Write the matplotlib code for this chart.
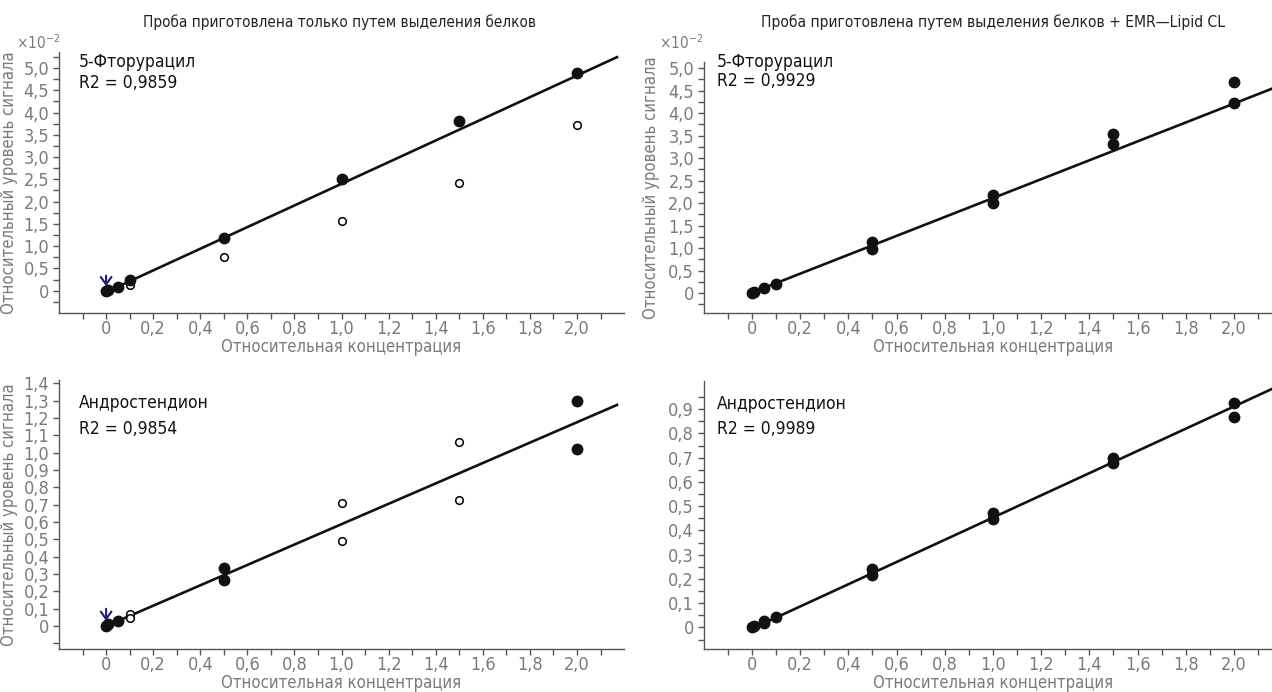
import numpy as np
import matplotlib
matplotlib.use('Agg')
import matplotlib.pyplot as plt
from matplotlib.ticker import FixedLocator, FuncFormatter

plt.rcParams['font.family'] = ['DejaVu Sans']
plt.rcParams['font.stretch'] = 'condensed'
plt.rcParams['mathtext.fontset'] = 'dejavusans'

# --- data (signal values of the top panels in units of 1e-2) ---
titles = ['Проба приготовлена только путем выделения белков',
          'Проба приготовлена путем выделения белков + EMR—Lipid CL']
xlabel = 'Относительная концентрация'
ylabel = 'Относительный уровень сигнала'
compounds = ['5-Фторурацил', 'Андростендион']

# 5-fluorouracil, protein precipitation only
fu_ppt_x = [0, 0.01, 0.05, 0.1, 0.5, 1.0, 1.5, 2.0]
fu_ppt_y = [0.0, 0.01, 0.09, 0.24, 1.19, 2.50, 3.82, 4.89]
fu_ppt_open_x = [0.1, 0.5, 1.0, 1.5, 2.0]
fu_ppt_open_y = [0.13, 0.75, 1.57, 2.42, 3.72]
fu_ppt_fit = (2.43, -0.03)
fu_ppt_r2 = '0,9859'

# 5-fluorouracil, PPT + EMR-Lipid
fu_emr_x = [0, 0.01, 0.05, 0.1, 0.5, 0.5, 1.0, 1.0, 1.5, 1.5, 2.0, 2.0]
fu_emr_y = [0.0, 0.03, 0.11, 0.21, 1.13, 0.98, 2.17, 1.99, 3.54, 3.32, 4.70, 4.22]
fu_emr_fit = (2.10, 0.01)
fu_emr_r2 = '0,9929'

# androstenedione, protein precipitation only
an_ppt_x = [0, 0.01, 0.05, 0.5, 0.5, 2.0, 2.0]
an_ppt_y = [0.0, 0.01, 0.03, 0.335, 0.265, 1.30, 1.02]
an_ppt_open_x = [0.1, 0.1, 1.0, 1.0, 1.5, 1.5]
an_ppt_open_y = [0.07, 0.045, 0.71, 0.49, 1.065, 0.725]
an_ppt_fit = (0.588, 0.0)
an_ppt_r2 = '0,9854'

# androstenedione, PPT + EMR-Lipid
an_emr_x = [0, 0.01, 0.05, 0.05, 0.1, 0.5, 0.5, 1.0, 1.0, 1.5, 1.5, 2.0, 2.0]
an_emr_y = [0.003, 0.006, 0.02, 0.028, 0.044, 0.24, 0.218, 0.473, 0.449, 0.697, 0.676, 0.927, 0.868]
an_emr_fit = (0.458, -0.005)
an_emr_r2 = '0,9989'

GRAY = '#7a7a7a'
AXIS = '#555555'


def comma(v, pos=None):
    if abs(v) < 1e-9:
        return '0'
    return f'{v:.1f}'.replace('.', ',')


def style_axis(ax, ymin, ymax, ymajor, yminor):
    ax.set_xlim(-0.2, 2.2)
    ax.set_ylim(ymin, ymax)
    for s in ['top', 'right']:
        ax.spines[s].set_visible(False)
    for s in ['left', 'bottom']:
        ax.spines[s].set_color(AXIS)
        ax.spines[s].set_linewidth(1.0)
    ax.xaxis.set_major_locator(FixedLocator(np.arange(0, 2.01, 0.2)))
    ax.xaxis.set_minor_locator(FixedLocator(np.arange(-0.1, 2.15, 0.2)))
    ax.yaxis.set_major_locator(FixedLocator(ymajor))
    ax.yaxis.set_minor_locator(FixedLocator(yminor))
    ax.xaxis.set_major_formatter(FuncFormatter(comma))
    ax.yaxis.set_major_formatter(FuncFormatter(comma))
    ax.tick_params(which='both', direction='out', length=4, width=1, color=AXIS,
                   labelcolor=GRAY, labelsize=13)
    ax.tick_params(axis='x', pad=1)
    ax.tick_params(axis='y', pad=3)
    ax.set_xlabel(xlabel, color=GRAY, fontsize=12, labelpad=0)


def draw(ax, x, y, fit, name, r2, tx, ty, ox=None, oy=None, arrow=None, xend=2.17):
    xs = np.array([0, xend])
    ax.plot(xs, fit[0] * xs + fit[1], color='#111111', lw=1.9, zorder=2)
    if ox is not None:
        ax.plot(ox, oy, 'o', ms=5.5, mfc='white', mec='black', mew=1.1, zorder=3)
    ax.plot(x, y, 'o', ms=7.5, color='#111111', zorder=4)
    if arrow is not None:
        ax.annotate('', xy=(0, arrow[1]), xytext=(0, arrow[0]),
                    arrowprops=dict(arrowstyle='->,head_length=0.45,head_width=0.32',
                                    color='#1c1c7c', lw=1.5, mutation_scale=12,
                                    shrinkA=0, shrinkB=0), zorder=5)
    ax.text(tx, ty[0], name, transform=ax.transAxes, fontsize=12.5,
            color='#111111', va='center')
    ax.text(tx, ty[1], 'R2 = ' + r2, transform=ax.transAxes, fontsize=12.5,
            color='#111111', va='center')


fig = plt.figure(figsize=(12.72, 6.92), dpi=100)

ax1 = fig.add_axes([0.0464, 0.5477, 0.4442, 0.3766])
ax2 = fig.add_axes([0.5533, 0.5473, 0.4547, 0.3635])
ax3 = fig.add_axes([0.0464, 0.0617, 0.4442, 0.3892])
ax4 = fig.add_axes([0.5533, 0.0617, 0.4547, 0.3881])

top_major = np.arange(0, 5.01, 0.5)
top_minor = np.arange(-0.25, 5.3, 0.5)
style_axis(ax1, -0.5, 5.35, top_major, top_minor)
style_axis(ax2, -0.45, 5.14, top_major, top_minor)
style_axis(ax3, -0.134, 1.42, np.arange(0, 1.41, 0.1), [-0.1])
style_axis(ax4, -0.09, 1.017, np.arange(0, 0.91, 0.1), np.arange(-0.05, 1.0, 0.1))

draw(ax1, fu_ppt_x, fu_ppt_y, fu_ppt_fit, compounds[0], fu_ppt_r2, 0.035, (0.962, 0.881),
     fu_ppt_open_x, fu_ppt_open_y, arrow=(0.34, 0.1))
draw(ax2, fu_emr_x, fu_emr_y, fu_emr_fit, compounds[0], fu_emr_r2, 0.022, (0.999, 0.922),
     xend=2.3)
draw(ax3, an_ppt_x, an_ppt_y, an_ppt_fit, compounds[1], an_ppt_r2, 0.035, (0.914, 0.818),
     an_ppt_open_x, an_ppt_open_y, arrow=(0.1, 0.03))
draw(ax4, an_emr_x, an_emr_y, an_emr_fit, compounds[1], an_emr_r2, 0.022, (0.912, 0.819),
     xend=2.3)

for ax, lx in [(ax1, -0.073), (ax2, -0.075), (ax3, -0.073)]:
    ax.set_ylabel(ylabel, color=GRAY, fontsize=12)
    ax.yaxis.set_label_coords(lx, 0.5)

fig.text(0.047, 0.938, r'$\times10^{-2}$', ha='right', va='center', color=GRAY, fontsize=11)
fig.text(0.553, 0.938, r'$\times10^{-2}$', ha='right', va='center', color=GRAY, fontsize=11)

fig.text(0.267, 0.968, titles[0], ha='center', va='center', fontsize=11, color='#222222')
fig.text(0.781, 0.968, titles[1], ha='center', va='center', fontsize=11.2, color='#222222')

fig.savefig('out.png', dpi=100)
